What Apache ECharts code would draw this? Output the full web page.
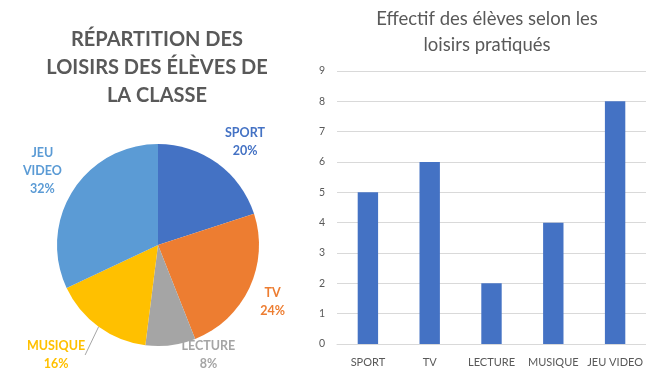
<!DOCTYPE html>
<html>
<head>
<meta charset="utf-8">
<script src="https://cdn.jsdelivr.net/npm/echarts@6/dist/echarts.min.js"></script>
<style>
  html, body { margin: 0; padding: 0; background: #ffffff; }
  #chart { width: 646px; height: 376px; }
</style>
</head>
<body>
<div id="chart"></div>
<script>
// Loisirs pratiqués par les élèves de la classe
const categories = ['SPORT', 'TV', 'LECTURE', 'MUSIQUE', 'JEU VIDEO'];
const effectifs = [5, 6, 2, 4, 8];
const yAxisMax = 9;
const yAxisStep = 1;

const pieTitle = 'RÉPARTITION DES\nLOISIRS DES ÉLÈVES DE\nLA CLASSE';
const barTitle = 'Effectif des élèves selon les\nloisirs pratiqués';

// Office palette, one colour per loisir
const sliceColors = ['#4472C4', '#ED7D31', '#A5A5A5', '#FFC000', '#5B9BD5'];
const barColor = '#4472C4';
const textGrey = '#595959';
const gridGrey = '#d9d9d9';
const font = 'Lato, "Liberation Sans", sans-serif';

// small nudges for the pie labels (px), by slice
const labelNudge = [[5, 3], [-9, 1], [29, -20], [-20, 4], [0, -4]];

const pieData = categories.map((name, i) => ({
  name: name,
  value: effectifs[i],
  itemStyle: { color: sliceColors[i] },
  label: { color: sliceColors[i] },
  labelLine: { show: name === 'MUSIQUE' }
}));

const chart = echarts.init(document.getElementById('chart'), null, { renderer: 'canvas' });

chart.setOption({
  backgroundColor: '#ffffff',
  animation: false,
  title: [
    {
      text: pieTitle,
      left: 152,
      top: 21,
      textAlign: 'center',
      textStyle: {
        fontFamily: font,
        fontWeight: 'bold',
        fontSize: 20,
        lineHeight: 28,
        color: textGrey
      }
    },
    {
      text: barTitle,
      left: 482,
      top: 1,
      textAlign: 'center',
      textStyle: {
        fontFamily: font,
        fontWeight: 'normal',
        fontSize: 18.5,
        lineHeight: 26,
        color: textGrey
      }
    }
  ],
  grid: { left: 337, right: 0, top: 71, bottom: 32 },
  xAxis: {
    type: 'category',
    data: categories,
    axisTick: { show: false },
    axisLine: { lineStyle: { color: gridGrey, width: 1 } },
    axisLabel: {
      interval: 0,
      color: textGrey,
      fontFamily: font,
      fontSize: 11,
      margin: 13
    }
  },
  yAxis: {
    type: 'value',
    min: 0,
    max: yAxisMax,
    interval: yAxisStep,
    axisLine: { show: false },
    axisTick: { show: false },
    axisLabel: {
      color: textGrey,
      fontFamily: font,
      fontSize: 10.5,
      margin: 12
    },
    splitLine: { lineStyle: { color: gridGrey, width: 1 } }
  },
  series: [
    {
      type: 'pie',
      center: [158, 245],
      radius: 101,
      startAngle: 90,
      clockwise: true,
      avoidLabelOverlap: false,
      data: pieData,
      label: {
        position: 'outside',
        formatter: p => p.name.replace(' ', '\n') + '\n' + Math.round(p.percent) + '%',
        fontFamily: font,
        fontWeight: 'bold',
        fontSize: 12.5,
        lineHeight: 18,
        align: 'center'
      },
      labelLine: {
        length: 30,
        length2: 0,
        lineStyle: { color: '#a6a6a6', width: 1 }
      },
      labelLayout: function (p) {
        const r = p.labelRect;
        const n = labelNudge[p.dataIndex];
        let ax;
        if (p.align === 'left') ax = r.x;
        else if (p.align === 'right') ax = r.x + r.width;
        else ax = r.x + r.width / 2;
        return {
          x: ax + n[0],
          y: r.y + r.height / 2 + n[1],
          align: 'center',
          verticalAlign: 'middle'
        };
      }
    },
    {
      type: 'bar',
      data: effectifs,
      barWidth: '33%',
      itemStyle: { color: barColor }
    }
  ]
});
</script>
</body>
</html>
